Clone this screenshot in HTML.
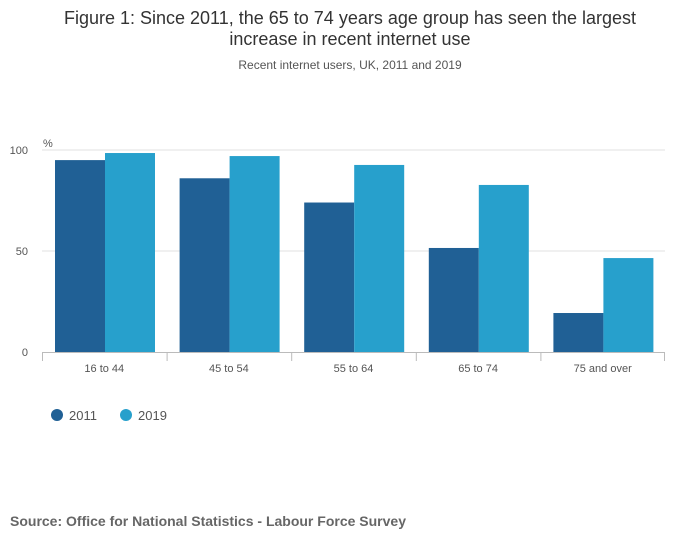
<!DOCTYPE html>
<html><head><meta charset="utf-8"><style>
body{margin:0;background:#fff;font-family:"Liberation Sans",sans-serif;}
</style></head><body>
<svg width="700" height="549" xmlns="http://www.w3.org/2000/svg">
<text x="350" y="24" text-anchor="middle" font-size="18" fill="#333">Figure 1: Since 2011, the 65 to 74 years age group has seen the largest</text>
<text x="350" y="45" text-anchor="middle" font-size="18" fill="#333">increase in recent internet use</text>
<text x="350" y="69" text-anchor="middle" font-size="12" fill="#555">Recent internet users, UK, 2011 and 2019</text>
<text x="43" y="147" font-size="11" fill="#555">%</text>
<g id="grid"></g>
<g id="bars"></g>
<g id="xaxis"></g>
<g>
<circle cx="57" cy="415" r="6" fill="#206095"/>
<text x="69" y="420" font-size="13" fill="#555">2011</text>
<circle cx="126" cy="415" r="6" fill="#27a0cc"/>
<text x="138" y="420" font-size="13" fill="#555">2019</text>
</g>
<text x="10" y="526" font-size="14" font-weight="bold" fill="#666">Source: Office for National Statistics - Labour Force Survey</text>
</svg>
<script>
const categories=["16 to 44","45 to 54","55 to 64","65 to 74","75 and over"];
const values2011=[95,86,74,51.5,19.3];
const values2019=[98.5,97,92.6,82.7,46.5];
const yTicks=[0,50,100];
const NS="http://www.w3.org/2000/svg";
const left=42,right=665,y0=352,y100=150;
const y=v=>y0-(y0-y100)*v/100;
const bw=(right-left)/categories.length;
const x=i=>left+i*bw;
function mk(t,a,p){const e=document.createElementNS(NS,t);for(const k in a)e.setAttribute(k,a[k]);p.appendChild(e);return e;}
const grid=document.getElementById('grid'),bars=document.getElementById('bars'),xa=document.getElementById('xaxis');
yTicks.forEach(t=>{
 if(t>0){const l=mk('line',{x1:left,x2:right,y1:y(t),y2:y(t),stroke:'#e0e0e0'},grid);
 
 }
 const tx=mk('text',{x:28,y:y(t)+4,'text-anchor':'end','font-size':11,fill:'#555'},grid);tx.textContent=t;
 
 
});
const ax=mk('line',{x1:left,x2:right,y1:y0+0.5,y2:y0+0.5,stroke:'#bbb'},xa);


categories.forEach((c,i)=>{
 const b1=mk('rect',{x:x(i)+13,y:y(values2011[i]),width:50,height:y0-y(values2011[i]),fill:'#206095'},bars);
 
 
 const b2=mk('rect',{x:x(i)+63,y:y(values2019[i]),width:50,height:y0-y(values2019[i]),fill:'#27a0cc'},bars);
 
 
 const tk=mk('line',{x1:x(i)+0.5,x2:x(i)+0.5,y1:y0,y2:y0+9,stroke:'#bbb'},xa);
 
 
 const t=mk('text',{x:x(i)+bw/2,y:y0+20,'text-anchor':'middle','font-size':11,fill:'#555'},xa);t.textContent=c;
 
 
});
const te=mk('line',{x1:right-0.5,x2:right-0.5,y1:y0,y2:y0+9,stroke:'#bbb'},xa);


</script>
</body></html>
